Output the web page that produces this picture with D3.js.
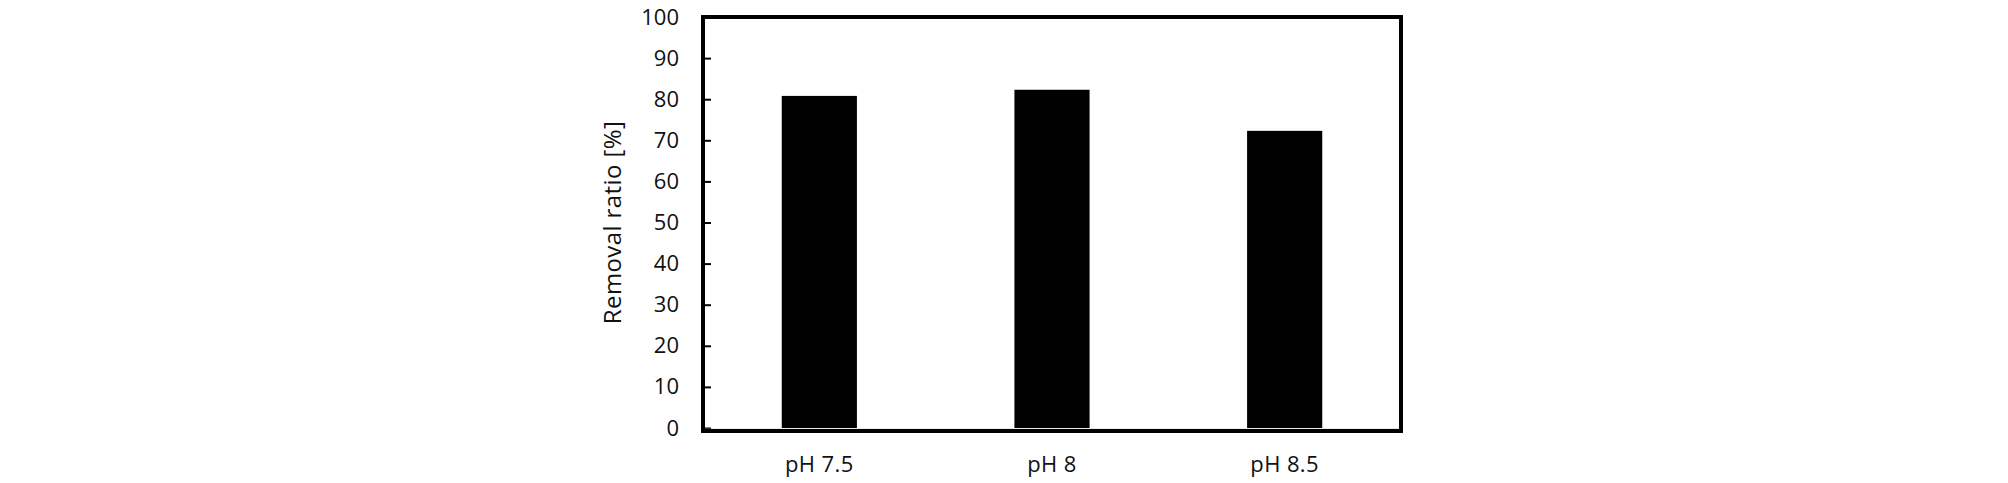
<!DOCTYPE html>
<meta charset="utf-8">
<style>
body { margin: 0; background: #fff; }
text { font-family: "Open Sans", "Noto Sans", sans-serif; fill: #111; }
</style>
<svg width="2008" height="483"></svg>
<script src="https://d3js.org/d3.v7.min.js"></script>
<script>

var categories = ["pH 7.5", "pH 8", "pH 8.5"];
var removal = [80.8, 82.3, 72.3];
var yTicks = [0, 10, 20, 30, 40, 50, 60, 70, 80, 90, 100];

var svg = d3.select("svg"),
    plotLeft = 703, plotRight = 1401, plotTop = 17, plotBottom = 428;

var x = d3.scaleBand()
    .domain(categories)
    .range([plotLeft, plotRight])
    .paddingInner(0.677)
    .paddingOuter(0.3385);

var y = d3.scaleLinear()
    .domain([0, 100])
    .range([plotBottom, plotTop]);

// bars
svg.append("g")
  .selectAll("rect")
  .data(removal)
  .enter().append("rect")
    .attr("x", function(d, i) { return x(categories[i]); })
    .attr("y", function(d) { return y(d); })
    .attr("width", x.bandwidth())
    .attr("height", function(d) { return y(0) - y(d); })
    .attr("fill", "#000");

// y axis, ticks pointing inside
var yAxis = svg.append("g")
    .attr("transform", "translate(" + plotLeft + ",0)")
    .call(d3.axisRight(y).tickValues(yTicks).tickSize(8).tickFormat(d3.format("d")));
yAxis.select(".domain").remove();
yAxis.selectAll("line").attr("stroke", "#000").attr("stroke-width", 2);
yAxis.selectAll("text")
    .attr("x", -24)
    .attr("text-anchor", "end")
    .attr("fill", "#111")
    .style("font-size", "22px");

// zero line
svg.append("line")
    .attr("x1", plotLeft).attr("x2", plotRight)
    .attr("y1", y(0) + 1.5).attr("y2", y(0) + 1.5)
    .attr("stroke", "#aaa")
    .attr("stroke-width", 1.5);

// frame
svg.append("rect")
    .attr("x", plotLeft)
    .attr("y", plotTop)
    .attr("width", plotRight - plotLeft)
    .attr("height", plotBottom + 3 - plotTop)
    .attr("fill", "none")
    .attr("stroke", "#000")
    .attr("stroke-width", 4);

// x labels
svg.append("g")
  .selectAll("text")
  .data(categories)
  .enter().append("text")
    .attr("x", function(d) { return x(d) + x.bandwidth() / 2; })
    .attr("y", 472)
    .attr("text-anchor", "middle")
    .style("font-size", "22px")
    .style("letter-spacing", "0.4px")
    .text(function(d) { return d; });

// y title
svg.append("text")
    .attr("transform", "translate(621," + ((plotTop + plotBottom) / 2) + ") rotate(-90)")
    .attr("text-anchor", "middle")
    .style("font-size", "24px")
    .style("letter-spacing", "0.4px")
    .text("Removal ratio [%]");

</script>
